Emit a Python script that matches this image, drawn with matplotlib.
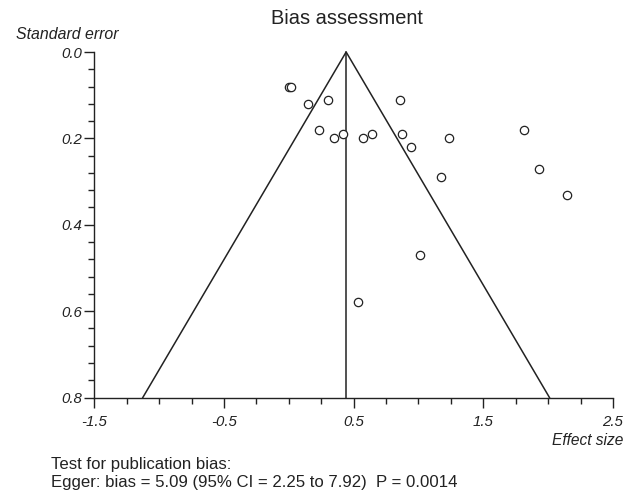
import matplotlib
matplotlib.use("Agg")
import matplotlib.pyplot as plt
import numpy as np

# ---- data ----
effect_size = [0.00, 0.02, 0.145, 0.30, 0.235, 0.345, 0.42, 0.57, 0.64,
               0.86, 0.875, 0.945, 1.235, 1.17, 1.81, 1.93, 2.145, 1.01, 0.53]
std_error = [0.08, 0.08, 0.12, 0.11, 0.18, 0.20, 0.19, 0.20, 0.19,
             0.11, 0.19, 0.22, 0.20, 0.29, 0.18, 0.27, 0.33, 0.47, 0.58]
pooled_effect = 0.442
se_max = 0.8
z95 = 1.96

title = "Bias assessment"
xlabel = "Effect size"
ylabel = "Standard error"
xticks = [-1.5, -0.5, 0.5, 1.5, 2.5]
yticks = [0.0, 0.2, 0.4, 0.6, 0.8]
footer1 = "Test for publication bias:"
footer2 = "Egger: bias = 5.09 (95% CI = 2.25 to 7.92)  P = 0.0014"

plt.rcParams['font.family'] = ['Liberation Sans', 'DejaVu Sans']
ink = '#222222'

W, H = 635, 494
fig = plt.figure(figsize=(W / 100, H / 100), dpi=100)
x0, x1 = 94.3, 613.0
y0, y1 = 52.0, 397.5
ax = fig.add_axes([x0 / W, 1 - y1 / H, (x1 - x0) / W, (y1 - y0) / H])

# funnel
ax.plot([pooled_effect - z95 * se_max, pooled_effect, pooled_effect + z95 * se_max],
        [se_max, 0, se_max], color=ink, lw=1.1, solid_joinstyle='miter', clip_on=False)
ax.plot([pooled_effect, pooled_effect], [0, se_max], color=ink, lw=1.1, clip_on=False)

ax.plot(effect_size, std_error, linestyle='none', marker='o', markersize=6,
        markerfacecolor='white', markeredgecolor=ink, markeredgewidth=0.9, clip_on=False)

ax.set_xlim(-1.5, 2.5)
ax.set_ylim(0.8, 0.0)
ax.set_xticks(xticks)
ax.set_xticklabels([f"{v:.1f}" for v in xticks], fontstyle='italic', fontsize=10.8, color=ink)
ax.set_xticks(np.arange(-1.5, 2.5001, 0.25), minor=True)
ax.set_yticks(yticks)
ax.set_yticklabels([f"{v:.1f}" for v in yticks], fontstyle='italic', fontsize=10.8, color=ink)
ax.set_yticks(np.arange(0, 0.8001, 0.04), minor=True)

for s in ['top', 'right']:
    ax.spines[s].set_visible(False)
for s in ['left', 'bottom']:
    ax.spines[s].set_color(ink)
    ax.spines[s].set_linewidth(1.0)
ax.tick_params(which='major', direction='out', length=7, width=1.0, color=ink)
ax.tick_params(which='minor', direction='out', length=4, width=1.0, color=ink)
ax.tick_params(axis='x', which='major', pad=5.5)
ax.tick_params(axis='y', which='major', pad=2)

fig.text(346.5 / W, 1 - 24 / H, title, ha='center', va='baseline', fontsize=14.4, color=ink)
fig.text(118 / W, 1 - 39.3 / H, ylabel, ha='right', va='baseline', fontsize=11.4,
         fontstyle='italic', color=ink)
fig.text(623 / W, 1 - 444.5 / H, xlabel, ha='right', va='baseline', fontsize=11.2,
         fontstyle='italic', color=ink)
fig.text(51 / W, 1 - 468.5 / H, footer1, ha='left', va='baseline', fontsize=12.1, color=ink)
fig.text(51 / W, 1 - 486.5 / H, footer2, ha='left', va='baseline', fontsize=12.1, color=ink)

fig.savefig("out.png", dpi=100)
